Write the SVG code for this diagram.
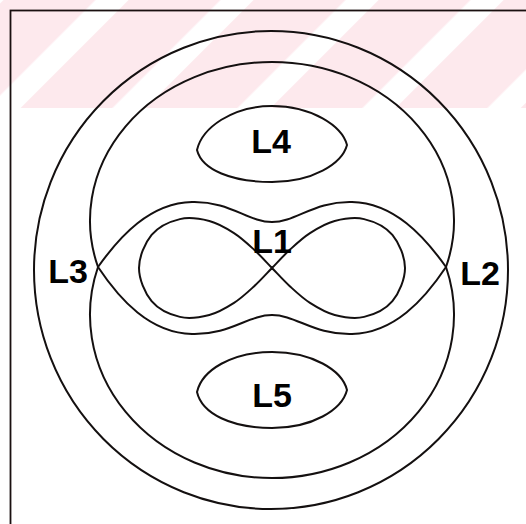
<svg xmlns="http://www.w3.org/2000/svg" width="526" height="524" viewBox="0 0 526 524">
  <style>
    .curve { fill: none; stroke: #141010; stroke-width: 2; stroke-linejoin: round; }
    .lbl { font-family: "Liberation Sans", Arial, sans-serif; font-weight: bold; font-size: 34px; fill: #000; text-anchor: middle; }
  </style>
  <defs>
    <pattern id="stripes" patternUnits="userSpaceOnUse" x="2.5" y="0" width="88.4" height="20" patternTransform="rotate(45)">
      <rect x="0" y="0" width="65" height="20" fill="#fde9ed"/>
    </pattern>
  </defs>
  <rect x="0" y="0" width="526" height="524" fill="#ffffff"/>
  <rect id="stripe-band" x="0" y="0" width="526" height="108" fill="url(#stripes)"/>
  <g id="frame">
    <rect x="10.5" y="10.5" width="600" height="600" fill="none" stroke="#1a1010" stroke-width="1.8"/>
  </g>
  <g id="outer-circle">
    <ellipse class="curve" cx="271" cy="270" rx="237" ry="239"/>
  </g>
  <g id="ring-L2-L3">
    <path class="curve" d="M98,267 A182,158.5 0 1 1 446,267 A182,163.2 0 1 1 98,267 Z"/>
  </g>
  <g id="peanut">
    <path class="curve" d="M98,267 C120,236 150,203 192,202 C230,201 248,222 272,222 C296,222 314,201 352,202 C394,203 424,236 446,267"/>
    <path class="curve" d="M98,267 C120,300 150,333 192,334 C230,335 248,315 272,315 C296,315 314,335 352,334 C394,333 424,300 446,267"/>
  </g>
  <g id="L1">
    <path class="curve" d="M405,268 C405,257 399.2,243.1 392.4,234.9 C385.6,226.8 373.7,221.4 364.1,219.1 C354.5,216.8 343.7,218.7 334.7,221 C325.7,223.3 317.5,228.3 310,233.1 C302.5,237.9 296.1,244 289.8,249.8 C283.5,255.6 277.9,261.9 272,268 C266.1,274.1 260.5,280.4 254.2,286.2 C247.9,292 241.5,298.1 234,302.9 C226.5,307.7 218.3,312.7 209.3,315 C200.3,317.3 189.5,319.2 179.9,316.9 C170.3,314.6 158.4,309.2 151.6,301.1 C144.8,292.9 139,279 139,268 C139,257 144.8,243.1 151.6,234.9 C158.4,226.8 170.3,221.4 179.9,219.1 C189.5,216.8 200.3,218.7 209.3,221 C218.3,223.3 226.5,228.3 234,233.1 C241.5,237.9 247.9,244 254.2,249.8 C260.5,255.6 266.1,261.9 272,268 C277.9,274.1 283.5,280.4 289.8,286.2 C296.1,292 302.5,298.1 310,302.9 C317.5,307.7 325.7,312.7 334.7,315 C343.7,317.3 354.5,319.2 364.1,316.9 C373.7,314.6 385.6,309.2 392.4,301.1 C399.2,292.9 405,279 405,268 Z"/>
    <text class="lbl" x="272" y="253">L1</text>
  </g>
  <g id="L2">
    <text class="lbl" x="480" y="285">L2</text>
  </g>
  <g id="L3">
    <text class="lbl" x="68" y="283">L3</text>
  </g>
  <g id="L4">
    <path class="curve" d="M197,150 C202,128 232,106 272,106 C312,106 342,126 347,145 C342,164 312,182 272,182 C232,182 202,170 197,150 Z"/>
    <text class="lbl" x="271" y="153">L4</text>
  </g>
  <g id="L5">
    <path class="curve" d="M197,392 C202,370 232,352 272,352 C312,352 342,370 347,390 C342,410 312,428 272,428 C232,428 202,414 197,392 Z"/>
    <text class="lbl" x="272" y="407">L5</text>
  </g>
</svg>
